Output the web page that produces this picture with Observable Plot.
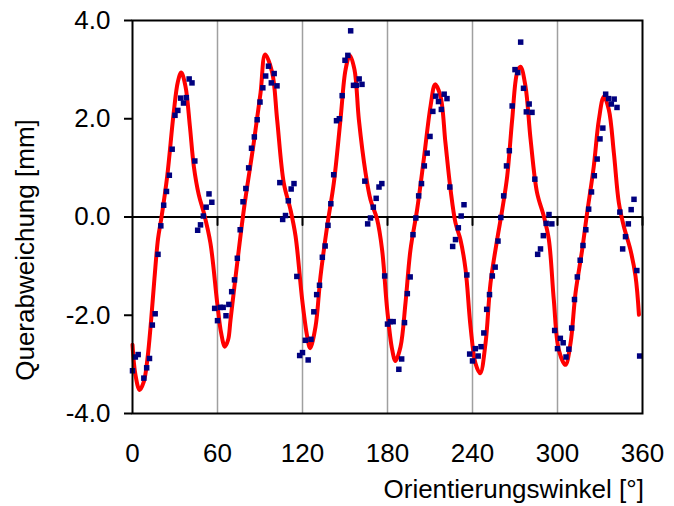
<!DOCTYPE html>
<html>
<head>
<meta charset="utf-8">
<script src="https://cdn.jsdelivr.net/npm/d3@7"></script>
<script src="https://cdn.jsdelivr.net/npm/@observablehq/plot@0.6"></script>
<style>
  html, body { margin: 0; padding: 0; background: #fff; }
</style>
</head>
<body>
<div id="chart"></div>
<script>
// Measured points (angle in degrees, deviation in mm)
const pointAngle = [0,2,4,8,10,12,14,16,18,20,22,24,26,28,30,32,34,36,38,40,42,44,46,48,50,52,54,56,58,60,
  62,64,66,68,70,72,74,76,78,80,82,84,86,88,90,92,94,96,98,100,102,104,106,108,110,112,114,116,118,120,
  122,124,126,128,130,132,134,136,138,140,142,144,146,148,150,152,154,156,158,160,162,164,166,168,170,172,174,176,178,180,
  182,184,188,190,192,194,196,198,200,202,204,206,208,210,212,214,216,218,220,222,224,226,228,230,232,234,236,238,240,
  242,244,246,248,250,252,254,256,258,260,262,264,266,268,270,272,274,276,278,280,282,284,286,288,290,292,294,296,298,300,
  302,304,306,308,310,312,314,316,318,320,322,324,326,328,330,332,334,336,338,340,342,344,346,348,350,352,354,356,358];
const pointDev = [-3.13,-2.85,-2.80,-3.28,-3.07,-2.88,-2.20,-1.97,-0.76,-0.18,0.24,0.52,0.85,1.38,2.07,2.17,2.42,2.32,2.43,2.81,2.73,1.14,-0.27,-0.16,0.02,0.20,0.47,0.30,-1.86,-2.11,
  -1.84,-1.84,-2.01,-1.78,-1.52,-1.28,-0.84,-0.26,0.31,0.58,1.00,1.40,1.63,1.98,2.34,2.63,2.87,3.07,2.73,2.92,2.67,0.70,-0.05,0.03,0.33,0.57,0.68,-1.21,-2.82,-2.76,
  -2.51,-2.91,-2.49,-1.93,-1.58,-1.39,-0.82,-0.59,-0.17,0.27,0.86,1.96,2.00,2.47,3.19,3.29,3.79,2.68,2.68,2.81,2.70,0.73,-0.14,-0.02,0.20,0.38,0.61,0.68,-1.20,-2.18,
  -2.13,-2.13,-3.10,-2.89,-2.15,-1.56,-1.22,-0.36,-0.02,0.43,0.68,1.04,1.30,1.64,2.15,2.46,2.35,2.19,2.50,2.41,0.61,-0.60,-0.46,-0.22,0.02,0.25,-1.18,-2.79,-2.93,
  -2.68,-2.83,-2.64,-2.36,-1.88,-1.58,-1.20,-1.02,-0.49,-0.01,0.43,1.04,1.35,2.26,3.00,2.94,3.56,2.62,2.14,2.30,2.13,0.77,-0.76,-0.65,-0.38,-0.13,0.05,-0.14,-2.31,-2.68,
  -2.47,-2.56,-2.85,-2.69,-2.26,-1.68,-1.22,-0.88,-0.58,-0.26,0.16,0.51,0.84,1.18,1.59,1.81,2.50,2.41,2.30,2.40,2.23,0.10,-0.65,-0.40,-0.14,0.15,0.36,-1.09,-2.83];

// Fitted curve
const fitAngle = [0,2,5,8,10.5,13,15.5,18,20.5,24.5,29,32,34.4,37.4,40.5,43.3,46.8,50.4,55,59.8,62.5,65.2,67.5,69.2,73.9,78.6,85.6,90.4,93.6,98.6,
  102.1,106.8,111.5,115.1,119.8,123.3,125.4,129.2,132.7,137.4,142.1,146.8,150.4,153.4,156.7,159.8,164.5,168,172.7,176.2,179.8,183.3,185.6,189.2,192.7,196.2,200.9,205.6,210.4,213.6,
  217.4,220.9,224.5,228,231.5,235.1,238.6,242.1,245.4,249.2,252.7,257.4,261,264.5,268,271.5,273.9,277.4,281,285.6,290.4,293.9,297.4,300.9,305.6,309.2,312.7,317.4,320.9,325.6,
  329.2,332.7,336.2,339.8,343.3,346.8,351.5,355.1,357.5];
const fitDev = [-2.6,-3.2,-3.52,-3.35,-2.9,-2.15,-1.25,-0.45,0.0,0.83,2.1,2.75,2.94,2.66,1.85,1.03,0.45,0.08,-0.53,-1.75,-2.35,-2.64,-2.5,-2.09,-0.94,0.15,1.51,2.53,3.31,2.94,
  1.98,0.69,0.15,-0.39,-1.69,-2.43,-2.67,-2.23,-1.21,-0.19,0.69,1.98,3.0,3.29,3.0,1.98,0.9,0.35,-0.05,-0.67,-1.89,-2.7,-2.93,-2.64,-1.75,-0.67,0.15,1.17,2.26,2.7,
  2.46,1.51,0.56,-0.12,-0.46,-1.07,-2.23,-2.98,-3.18,-2.57,-1.35,-0.46,0.15,0.83,1.98,2.94,3.06,2.66,1.58,0.49,0.01,-0.46,-1.69,-2.7,-3.01,-2.57,-1.55,-0.67,0.08,1.03,
  1.98,2.45,2.19,1.3,0.29,-0.19,-0.67,-1.21,-1.99];

const xTickValues = [0,60,120,180,240,300,360];
const xGridValues = [60,120,180,240,300];
const zeroTickValues = [60,120,180,240,300,360];
const yTickValues = [-4,-2,0,2,4];
const xTitle = "Orientierungswinkel [°]";
const yTitle = "Querabweichung [mm]";

const points = pointAngle.map((a, i) => ({angle: a, dev: pointDev[i]}));
const fit = fitAngle.map((a, i) => ({angle: a, dev: fitDev[i]}));

const tickShape = {draw(context, l) { context.moveTo(0, 0); context.lineTo(0, -l); }};

const chart = Plot.plot({
  width: 674,
  height: 506,
  marginLeft: 132,
  marginRight: 32,
  marginTop: 20,
  marginBottom: 93,
  style: {fontFamily: "'Liberation Sans', Arial, sans-serif", fontSize: "26px", background: "white", color: "black"},
  x: {domain: [0, 360]},
  y: {domain: [-4, 4]},
  marks: [
    Plot.ruleX(xGridValues, {stroke: "#a0a0a0", strokeWidth: 1.5}),
    Plot.ruleY([0], {stroke: "black", strokeWidth: 2}),
    Plot.vector(zeroTickValues, {x: d => d, y: () => 0, length: 8, rotate: 180, anchor: "start", shape: tickShape, stroke: "black", strokeWidth: 2}),
    Plot.line(fit, {x: "angle", y: "dev", stroke: "#ff0000", strokeWidth: 4, curve: "catmull-rom"}),
    Plot.dot(points, {x: "angle", y: "dev", symbol: "square", r: 3.1, fill: "#00007f", stroke: "none"}),
    Plot.frame({stroke: "black", strokeWidth: 2}),
    Plot.axisY({ticks: yTickValues, tickSize: 8, tickPadding: 14, strokeWidth: 2, tickFormat: d => d.toFixed(1), label: null, fontSize: 26}),
    Plot.axisX({ticks: xTickValues, tickSize: 0, tickPadding: 30, tickFormat: d => String(d), label: null, fontSize: 26}),
    Plot.text([yTitle], {frameAnchor: "left", rotate: -90, dx: -107, dy: 33, textAnchor: "middle", lineAnchor: "middle", fontSize: 26, fill: "black"}),
    Plot.text([xTitle], {frameAnchor: "bottom-left", dx: 251, dy: 76, textAnchor: "start", lineAnchor: "middle", fontSize: 26, fill: "black"})
  ]
});
document.getElementById("chart").appendChild(chart);
</script>
</body>
</html>
